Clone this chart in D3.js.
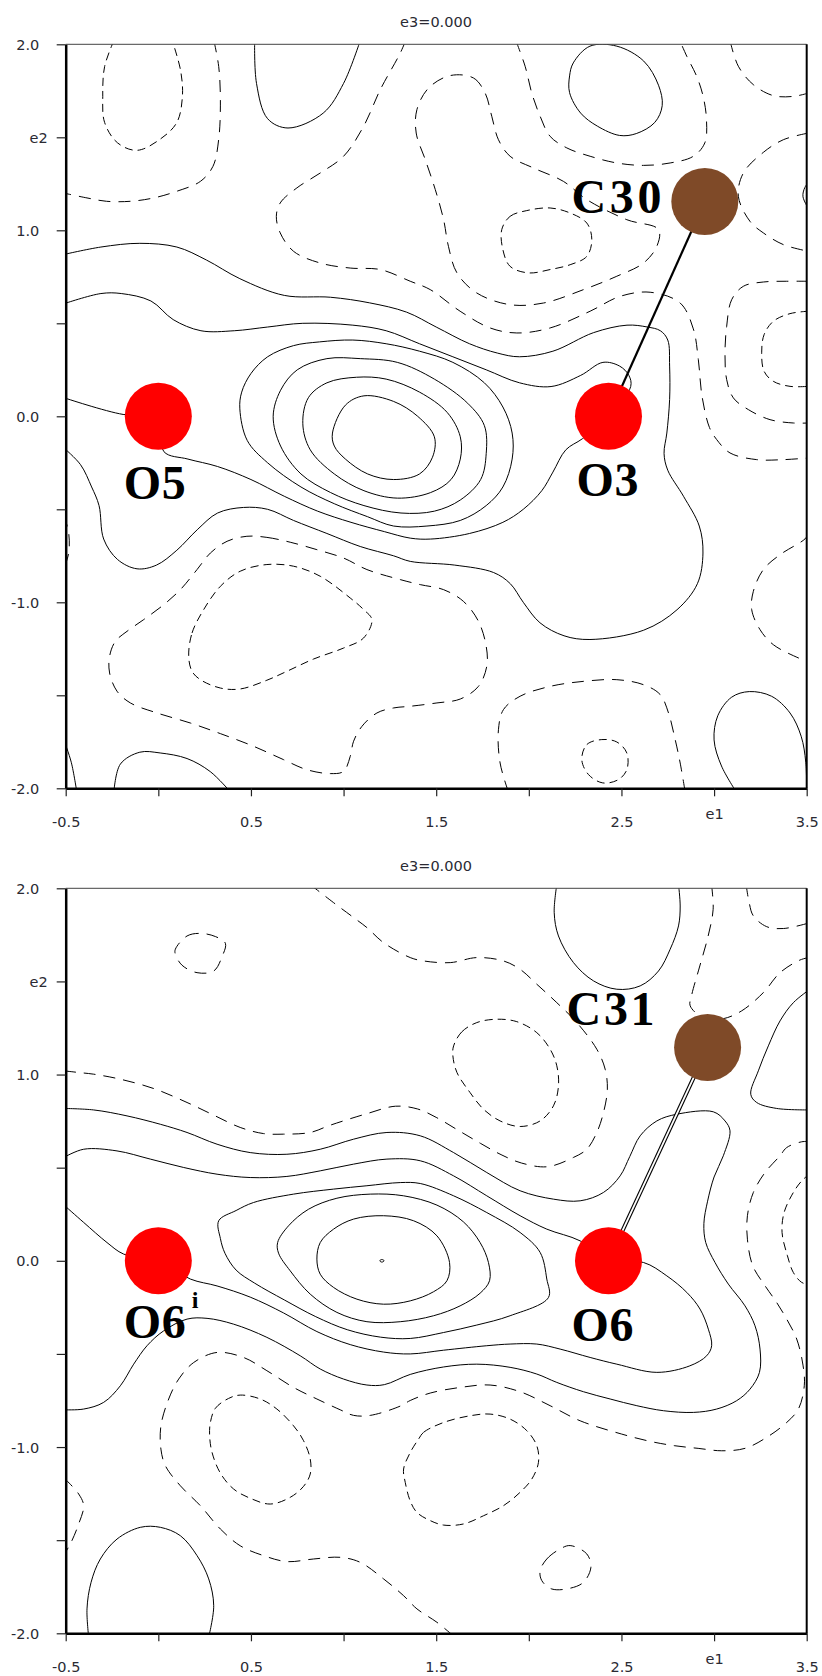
<!DOCTYPE html>
<html><head><meta charset="utf-8">
<script src="https://cdn.jsdelivr.net/npm/d3@7"></script>
<style>body{margin:0;background:#fff}svg{display:block}</style>
</head><body>
<script>
// ---------------- DATA ----------------
const xTickValues = [-0.5,0,0.5,1,1.5,2,2.5,3,3.5];
const xTickLabels = ["-0.5","","0.5","","1.5","","2.5","e1","3.5"];
const yTickValues = [2,1.5,1,0.5,0,-0.5,-1,-1.5,-2];
const yTickLabels = ["2.0","e2","1.0","","0.0","","-1.0","","-2.0"];
const titleText = "e3=0.000";

// atoms (e1, e2 in Å)
const atomsTop = [["O5",0,0,"O"],["O3",2.43,0,"O"],["C30",2.95,1.155,"C"]];
const atomsBot = [["O6i",0,0,"O"],["O6",2.43,0,"O"],["C31",2.965,1.145,"C"]];
const bondsTop = [["C30","O3","single"]];
const bondsBot = [["C31","O6","double"]];

// ---- top panel: positive (solid) contours ----
const t_s1 = [[0.94,-0.09],[1.01,0.06],[1.11,0.11],[1.27,0.08],[1.40,0.00],[1.49,-0.11],[1.48,-0.22],[1.41,-0.31],[1.27,-0.34],[1.13,-0.31],[1.01,-0.23],[0.95,-0.16]];
const t_s2 = [[0.78,-0.04],[0.81,0.10],[0.91,0.18],[1.07,0.21],[1.23,0.20],[1.41,0.13],[1.56,0.02],[1.63,-0.11],[1.63,-0.23],[1.58,-0.34],[1.47,-0.41],[1.29,-0.44],[1.11,-0.40],[0.95,-0.31],[0.82,-0.18]];
const t_s3 = [[0.62,0.00],[0.66,0.14],[0.75,0.25],[0.91,0.31],[1.09,0.31],[1.29,0.29],[1.49,0.20],[1.67,0.07],[1.76,-0.05],[1.77,-0.20],[1.74,-0.34],[1.63,-0.45],[1.49,-0.51],[1.31,-0.52],[1.11,-0.48],[0.93,-0.41],[0.77,-0.31],[0.66,-0.16]];
const t_s4 = [[0.44,0.04],[0.45,0.13],[0.50,0.23],[0.59,0.32],[0.73,0.38],[0.87,0.40],[1.05,0.41],[1.23,0.39],[1.41,0.35],[1.59,0.29],[1.76,0.18],[1.86,0.05],[1.91,-0.09],[1.91,-0.23],[1.86,-0.38],[1.77,-0.48],[1.63,-0.56],[1.45,-0.59],[1.27,-0.59],[1.13,-0.54],[0.95,-0.47],[0.77,-0.38],[0.59,-0.25],[0.48,-0.13]];
const t_c = [[-0.51,0.605],[-0.31,0.66],[-0.2,0.66],[-0.04,0.62],[0.08,0.52],[0.23,0.46],[0.41,0.46],[0.59,0.48],[0.78,0.50],[1.05,0.49],[1.23,0.46],[1.41,0.39],[1.59,0.32],[1.77,0.25],[1.95,0.18],[2.12,0.16],[2.28,0.22],[2.40,0.29],[2.49,0.27],[2.54,0.22],[2.55,0.16],[2.43,0.0],[2.29,-0.12],[2.20,-0.18],[2.13,-0.30],[2.07,-0.40],[1.97,-0.50],[1.86,-0.57],[1.68,-0.63],[1.47,-0.66],[1.36,-0.655],[1.22,-0.62],[1.04,-0.57],[0.86,-0.51],[0.68,-0.43],[0.50,-0.34],[0.32,-0.27],[0.16,-0.23],[0.03,-0.19],[0,0],[-0.19,0.01],[-0.51,0.10]];
const t_big = [[-0.51,0.87],[-0.31,0.91],[-0.10,0.93],[0.10,0.91],[0.26,0.84],[0.44,0.74],[0.68,0.65],[0.93,0.64],[1.14,0.61],[1.34,0.56],[1.50,0.48],[1.68,0.39],[1.83,0.34],[1.95,0.32],[2.13,0.35],[2.35,0.45],[2.53,0.49],[2.64,0.48],[2.71,0.46],[2.75,0.41],[2.76,0.27],[2.76,0.09],[2.745,-0.09],[2.73,-0.20],[2.75,-0.29],[2.835,-0.43],[2.92,-0.59],[2.94,-0.735],[2.91,-0.90],[2.80,-1.04],[2.62,-1.15],[2.33,-1.20],[2.19,-1.18],[2.06,-1.11],[1.97,-1.00],[1.90,-0.90],[1.81,-0.84],[1.60,-0.80],[1.36,-0.78],[1.27,-0.75],[1.09,-0.70],[0.91,-0.63],[0.73,-0.56],[0.59,-0.50],[0.46,-0.49],[0.32,-0.52],[0.21,-0.61],[0.10,-0.72],[-0.01,-0.80],[-0.115,-0.82],[-0.22,-0.77],[-0.295,-0.66],[-0.32,-0.48],[-0.36,-0.38],[-0.42,-0.26],[-0.51,-0.17]];
const t_topLobe = [[0.52,2.02],[0.53,1.79],[0.59,1.60],[0.70,1.55],[0.89,1.63],[1.00,1.79],[1.09,2.02]];
const t_trLoop = [[2.22,1.83],[2.24,1.90],[2.33,1.99],[2.475,1.99],[2.62,1.91],[2.70,1.78],[2.72,1.67],[2.68,1.58],[2.58,1.52],[2.49,1.51],[2.37,1.56],[2.28,1.63],[2.22,1.74]];
const t_edgeBump = [[3.52,1.27],[3.49,1.23],[3.48,1.18],[3.52,1.10]];
const t_brLobe = [[3.12,-2.02],[3.04,-1.88],[3.00,-1.74],[3.02,-1.61],[3.095,-1.51],[3.19,-1.48],[3.31,-1.505],[3.41,-1.595],[3.47,-1.72],[3.495,-1.86],[3.50,-2.02]];
const t_blLobe = [[-0.24,-2.02],[-0.205,-1.87],[-0.10,-1.806],[0.01,-1.81],[0.155,-1.84],[0.28,-1.91],[0.39,-2.02]];
const t_corner = [[-0.51,-1.74],[-0.47,-1.86],[-0.44,-2.02]];

// ---- top panel: zero (long dash) and negative (short dash) contours ----
const t_d1 = [[-0.24,2.02],[-0.29,1.88],[-0.30,1.72],[-0.29,1.58],[-0.22,1.47],[-0.115,1.43],[0.01,1.49],[0.10,1.58],[0.13,1.72],[0.12,1.86],[0.075,2.02]];
const t_d2 = [[0.30,2.02],[0.326,1.88],[0.335,1.70],[0.326,1.49],[0.295,1.344],[0.227,1.263],[0.10,1.21],[-0.025,1.174],[-0.15,1.156],[-0.28,1.156],[-0.385,1.174],[-0.51,1.20]];
const t_d3 = [[1.335,2.02],[1.306,1.953],[1.198,1.756],[1.108,1.559],[1.0,1.398],[0.874,1.308],[0.748,1.228],[0.658,1.147],[0.637,1.075],[0.658,0.986],[0.73,0.887],[0.874,0.824],[1.036,0.797],[1.198,0.789],[1.36,0.726],[1.468,0.681],[1.629,0.565],[1.791,0.475],[1.935,0.448],[2.115,0.475],[2.331,0.565],[2.493,0.645],[2.655,0.667],[2.817,0.609],[2.888,0.47],[2.915,0.305],[2.935,0.108],[2.975,-0.06],[3.014,-0.125],[3.086,-0.197],[3.23,-0.233],[3.374,-0.233],[3.51,-0.224]];
const t_d4 = [[1.576,1.832],[1.701,1.819],[1.764,1.738],[1.80,1.613],[1.836,1.487],[1.899,1.398],[2.025,1.335],[2.187,1.263],[2.313,1.165],[2.529,1.057],[2.70,1.004],[2.691,0.914],[2.619,0.824],[2.475,0.753],[2.295,0.681],[2.079,0.609],[1.899,0.60],[1.719,0.663],[1.612,0.771],[1.566,0.914],[1.54,1.057],[1.495,1.219],[1.441,1.38],[1.392,1.523],[1.396,1.649],[1.459,1.765]];
const t_d5 = [[1.854,1.004],[1.899,1.075],[1.989,1.106],[2.115,1.12],[2.223,1.093],[2.313,1.039],[2.34,0.95],[2.313,0.86],[2.223,0.815],[2.115,0.789],[1.998,0.771],[1.899,0.806],[1.86,0.896]];
const t_dU = [[1.93,2.02],[1.98,1.882],[2.016,1.738],[2.061,1.613],[2.115,1.505],[2.205,1.443],[2.331,1.398],[2.475,1.362],[2.619,1.349],[2.763,1.362],[2.888,1.398],[2.95,1.47],[2.959,1.595],[2.941,1.72],[2.906,1.828],[2.853,1.935],[2.815,2.02]];
const t_dTR = [[3.086,2.02],[3.131,1.882],[3.212,1.783],[3.32,1.724],[3.428,1.72],[3.51,1.738]];
const t_dC = [[3.51,1.523],[3.374,1.487],[3.266,1.419],[3.158,1.308],[3.131,1.183],[3.194,1.048],[3.266,0.986],[3.374,0.923],[3.51,0.887]];
const t_d6 = [[3.51,0.726],[3.392,0.726],[3.266,0.722],[3.158,0.699],[3.095,0.627],[3.068,0.484],[3.059,0.341],[3.068,0.197],[3.104,0.099],[3.185,0.036],[3.302,-0.018],[3.428,-0.036],[3.51,-0.036]];
const t_d7 = [[3.51,0.565],[3.41,0.552],[3.32,0.511],[3.27,0.439],[3.257,0.341],[3.27,0.242],[3.32,0.188],[3.41,0.161],[3.51,0.161]];
const t_d8 = [[3.51,-0.63],[3.491,-0.659],[3.356,-0.744],[3.266,-0.824],[3.212,-0.941],[3.203,-1.039],[3.248,-1.147],[3.32,-1.228],[3.455,-1.299],[3.51,-1.32]];
const t_d9 = [[1.89,-2.02],[1.845,-1.864],[1.836,-1.685],[1.863,-1.577],[1.953,-1.505],[2.115,-1.452],[2.295,-1.425],[2.475,-1.416],[2.619,-1.443],[2.709,-1.496],[2.754,-1.595],[2.79,-1.738],[2.817,-1.864],[2.844,-2.02]];
const t_d10 = [[2.286,-1.846],[2.313,-1.765],[2.394,-1.738],[2.475,-1.751],[2.529,-1.81],[2.529,-1.90],[2.484,-1.953],[2.399,-1.971],[2.322,-1.926]];
const t_d11 = [[0.478,-0.645],[0.586,-0.651],[0.712,-0.677],[0.856,-0.717],[1.0,-0.762],[1.126,-0.824],[1.306,-0.878],[1.414,-0.905],[1.54,-0.932],[1.647,-0.995],[1.728,-1.102],[1.77,-1.237],[1.773,-1.344],[1.728,-1.452],[1.63,-1.52],[1.504,-1.541],[1.36,-1.559],[1.27,-1.568],[1.18,-1.595],[1.099,-1.667],[1.054,-1.747],[1.036,-1.828],[1.0,-1.909],[0.928,-1.921],[0.802,-1.90],[0.676,-1.846],[0.514,-1.774],[0.335,-1.706],[0.173,-1.649],[-0.007,-1.595],[-0.151,-1.541],[-0.223,-1.478],[-0.263,-1.38],[-0.263,-1.29],[-0.232,-1.21],[-0.169,-1.156],[-0.079,-1.093],[0.029,-1.013],[0.119,-0.932],[0.209,-0.824],[0.281,-0.735],[0.371,-0.672]];
const t_d12 = [[0.164,-1.29],[0.182,-1.165],[0.245,-1.039],[0.335,-0.914],[0.442,-0.833],[0.586,-0.797],[0.73,-0.806],[0.874,-0.86],[1.036,-0.977],[1.108,-1.039],[1.153,-1.093],[1.108,-1.192],[1.0,-1.246],[0.838,-1.305],[0.694,-1.371],[0.586,-1.419],[0.442,-1.466],[0.335,-1.461],[0.227,-1.416],[0.182,-1.371]];
const t_dLE = [[-0.51,-0.53],[-0.484,-0.627],[-0.484,-0.735],[-0.51,-0.82]];

// ---- bottom panel: solid contours ----
const b_top = [[2.151,2.02],[2.137,1.869],[2.16,1.744],[2.241,1.601],[2.349,1.503],[2.475,1.458],[2.601,1.476],[2.70,1.556],[2.763,1.673],[2.808,1.798],[2.817,1.905],[2.808,2.02]];
const b_right = [[3.52,1.46],[3.428,1.386],[3.356,1.288],[3.293,1.154],[3.239,1.02],[3.198,0.894],[3.23,0.85],[3.338,0.818],[3.52,0.81]];
const b_i1 = [[0.856,0.009],[0.874,0.098],[0.946,0.17],[1.054,0.224],[1.216,0.242],[1.378,0.215],[1.504,0.134],[1.572,-0.009],[1.558,-0.107],[1.486,-0.166],[1.36,-0.215],[1.216,-0.233],[1.072,-0.206],[0.946,-0.143],[0.874,-0.072]];
const b_dot = [[1.195,0],[1.207,0.007],[1.219,0],[1.207,-0.007]];
const b_i2 = [[0.644,0.098],[0.703,0.188],[0.811,0.277],[0.964,0.336],[1.144,0.358],[1.324,0.349],[1.504,0.299],[1.647,0.209],[1.737,0.098],[1.782,-0.009],[1.788,-0.107],[1.737,-0.174],[1.629,-0.242],[1.486,-0.295],[1.306,-0.327],[1.126,-0.327],[0.964,-0.277],[0.82,-0.179],[0.712,-0.054],[0.649,0.041]];
const b_lens = [[0.326,0.215],[0.42,0.27],[0.514,0.313],[0.73,0.358],[0.946,0.385],[1.126,0.403],[1.306,0.42],[1.414,0.415],[1.594,0.349],[1.773,0.259],[1.953,0.152],[2.061,0.045],[2.097,-0.098],[2.106,-0.197],[1.899,-0.295],[1.719,-0.345],[1.54,-0.385],[1.36,-0.417],[1.20,-0.41],[1.02,-0.37],[0.85,-0.30],[0.68,-0.21],[0.52,-0.12],[0.42,-0.05],[0.36,0.04],[0.335,0.12]];
const b_s1 = [[-0.51,0.818],[-0.349,0.81],[-0.169,0.778],[0.011,0.733],[0.155,0.689],[0.317,0.626],[0.496,0.581],[0.694,0.572],[0.874,0.599],[1.054,0.653],[1.234,0.689],[1.414,0.671],[1.594,0.581],[1.773,0.474],[1.953,0.376],[2.133,0.331],[2.277,0.322],[2.403,0.367],[2.493,0.456],[2.545,0.56],[2.601,0.671],[2.691,0.751],[2.799,0.787],[2.996,0.80],[3.059,0.751],[3.086,0.698],[3.05,0.564],[3.00,0.45],[2.965,0.32],[2.945,0.20],[2.955,0.098],[3.005,-0.009],[3.077,-0.125],[3.167,-0.242],[3.221,-0.349],[3.248,-0.474],[3.245,-0.599],[3.194,-0.689],[3.122,-0.751],[3.014,-0.796],[2.888,-0.814],[2.727,-0.805],[2.583,-0.778],[2.439,-0.742],[2.295,-0.703],[2.151,-0.653],[2.043,-0.608],[1.899,-0.572],[1.719,-0.555],[1.54,-0.57],[1.36,-0.61],[1.22,-0.665],[1.126,-0.667],[1.0,-0.635],[0.874,-0.581],[0.766,-0.51],[0.586,-0.411],[0.406,-0.34],[0.263,-0.309],[0.155,-0.313],[0.029,-0.376],[-0.061,-0.456],[-0.133,-0.555],[-0.205,-0.671],[-0.295,-0.76],[-0.403,-0.796],[-0.51,-0.80]];
const b_s2 = [[-0.51,0.555],[-0.403,0.599],[-0.223,0.59],[-0.043,0.546],[0.137,0.501],[0.317,0.465],[0.496,0.447],[0.694,0.453],[0.874,0.483],[1.054,0.519],[1.234,0.546],[1.414,0.537],[1.594,0.456],[1.773,0.349],[1.953,0.242],[2.097,0.17],[2.277,0.107],[2.43,0],[2.619,-0.009],[2.745,-0.081],[2.853,-0.17],[2.924,-0.259],[2.969,-0.367],[2.987,-0.456],[2.96,-0.51],[2.869,-0.564],[2.691,-0.599],[2.475,-0.555],[2.331,-0.519],[2.169,-0.474],[2.043,-0.447],[1.899,-0.447],[1.773,-0.456],[1.54,-0.48],[1.36,-0.50],[1.216,-0.49],[1.036,-0.45],[0.856,-0.38],[0.676,-0.28],[0.496,-0.195],[0.317,-0.135],[0.173,-0.098],[0,0],[-0.187,0.036],[-0.277,0.098],[-0.403,0.206],[-0.51,0.30]];
const b_blLobe = [[-0.376,-2.02],[-0.385,-1.869],[-0.363,-1.726],[-0.313,-1.601],[-0.223,-1.494],[-0.097,-1.431],[0.011,-1.431],[0.119,-1.476],[0.209,-1.583],[0.272,-1.708],[0.299,-1.852],[0.272,-2.02]];

// ---- bottom panel: dashed contours ----
const b_d1 = [[0.092,1.673],[0.155,1.744],[0.227,1.758],[0.308,1.741],[0.362,1.705],[0.344,1.633],[0.299,1.556],[0.209,1.547],[0.128,1.587],[0.092,1.646]];
const b_d2 = [[-0.51,1.02],[-0.43,1.011],[-0.349,1.002],[-0.205,0.975],[-0.025,0.925],[0.155,0.85],[0.299,0.782],[0.442,0.716],[0.568,0.683],[0.676,0.68],[0.82,0.689],[0.928,0.728],[1.126,0.79],[1.28,0.83],[1.40,0.815],[1.50,0.77],[1.62,0.70],[1.74,0.63],[1.85,0.57],[1.96,0.525],[2.10,0.505],[2.241,0.555],[2.313,0.599],[2.367,0.689],[2.403,0.796],[2.424,0.921],[2.412,1.029],[2.367,1.136],[2.259,1.279],[2.151,1.386],[2.043,1.485],[1.953,1.565],[1.863,1.61],[1.719,1.628],[1.576,1.601],[1.432,1.61],[1.36,1.628],[1.216,1.708],[1.126,1.789],[1.054,1.843],[0.946,1.923],[0.82,2.02]];
const b_d3 = [[1.594,1.154],[1.638,1.229],[1.719,1.279],[1.827,1.297],[1.935,1.284],[2.043,1.225],[2.115,1.136],[2.151,1.047],[2.16,0.939],[2.133,0.832],[2.061,0.751],[1.953,0.721],[1.845,0.751],[1.755,0.814],[1.683,0.903],[1.612,1.011],[1.59,1.101]];
const b_dC = [[2.986,2.02],[2.995,1.887],[2.968,1.744],[2.923,1.583],[2.878,1.422],[2.871,1.369],[2.95,1.30],[3.05,1.30],[3.149,1.342],[3.266,1.44],[3.356,1.547],[3.464,1.615],[3.52,1.63]];
const b_dTR = [[3.173,2.02],[3.19,1.92],[3.212,1.852],[3.284,1.794],[3.374,1.784],[3.52,1.816]];
const b_dR1 = [[3.52,0.64],[3.473,0.639],[3.392,0.608],[3.356,0.564],[3.275,0.474],[3.212,0.367],[3.18,0.242],[3.18,0.116],[3.209,-0.027],[3.275,-0.134],[3.338,-0.224],[3.392,-0.313],[3.446,-0.42],[3.48,-0.56],[3.487,-0.671],[3.455,-0.796],[3.392,-0.868],[3.284,-0.948],[3.167,-1.007],[3.041,-1.02],[2.914,-1.007],[2.788,-0.993],[2.662,-0.971],[2.5,-0.93],[2.277,-0.859],[2.115,-0.778],[1.953,-0.703],[1.791,-0.667],[1.629,-0.68],[1.468,-0.71],[1.36,-0.75],[1.306,-0.78],[1.144,-0.83],[1.054,-0.83],[0.982,-0.80],[0.856,-0.742],[0.73,-0.68],[0.586,-0.59],[0.46,-0.519],[0.317,-0.492],[0.191,-0.546],[0.11,-0.635],[0.056,-0.742],[0.014,-0.886],[0.014,-1.011],[0.038,-1.10],[0.119,-1.208],[0.227,-1.315],[0.335,-1.44],[0.442,-1.53],[0.568,-1.583],[0.694,-1.615],[0.838,-1.601],[0.982,-1.592],[1.09,-1.619],[1.216,-1.708],[1.324,-1.798],[1.396,-1.869],[1.504,-1.941],[1.60,-2.02]];
const b_dR2 = [[3.52,0.47],[3.473,0.429],[3.428,0.367],[3.378,0.259],[3.367,0.152],[3.396,0.027],[3.428,-0.063],[3.473,-0.116],[3.52,-0.13]];
const b_d4 = [[0.281,-0.868],[0.308,-0.792],[0.379,-0.739],[0.442,-0.721],[0.55,-0.742],[0.64,-0.796],[0.73,-0.886],[0.784,-0.966],[0.82,-1.064],[0.82,-1.145],[0.784,-1.211],[0.712,-1.27],[0.604,-1.306],[0.496,-1.275],[0.406,-1.225],[0.335,-1.14],[0.29,-1.029],[0.277,-0.939]];
const b_d5 = [[1.405,-0.957],[1.432,-0.921],[1.54,-0.868],[1.683,-0.832],[1.791,-0.823],[1.899,-0.85],[1.989,-0.912],[2.043,-0.993],[2.052,-1.082],[2.016,-1.172],[1.953,-1.243],[1.863,-1.315],[1.755,-1.369],[1.647,-1.413],[1.54,-1.419],[1.468,-1.395],[1.396,-1.351],[1.36,-1.29],[1.333,-1.19],[1.324,-1.118],[1.36,-1.029]];
const b_d6 = [[2.061,-1.664],[2.097,-1.601],[2.169,-1.547],[2.223,-1.529],[2.313,-1.574],[2.335,-1.646],[2.295,-1.726],[2.223,-1.758],[2.124,-1.762],[2.07,-1.717]];
const b_dLE = [[-0.51,-1.165],[-0.43,-1.252],[-0.403,-1.315],[-0.43,-1.413],[-0.471,-1.512],[-0.51,-1.58]];

// contour groups: [points, closed?]
const topSolid = [[t_s1,1],[t_s2,1],[t_s3,1],[t_s4,1],[t_c,0],[t_big,0],[t_topLobe,0],[t_trLoop,1],[t_edgeBump,0],[t_brLobe,0],[t_blLobe,0],[t_corner,0]];
const topZero = [[t_d2,0],[t_d3,0],[t_d4,1],[t_dU,0],[t_dTR,0],[t_dC,0],[t_d6,0],[t_d8,0],[t_d9,0],[t_d11,1],[t_dLE,0]];
const topNeg = [[t_d1,0],[t_d5,1],[t_d7,0],[t_d10,1],[t_d12,1]];
const botSolid = [[b_top,0],[b_right,0],[b_i1,1],[b_dot,1],[b_i2,1],[b_lens,1],[b_s1,0],[b_s2,0],[b_blLobe,0]];
const botZero = [[b_d1,1],[b_d2,0],[b_dC,0],[b_dTR,0],[b_dR1,0],[b_d6,1],[b_dLE,0]];
const botNeg = [[b_d3,1],[b_dR2,0],[b_d4,1],[b_d5,1]];

// ---------------- LAYOUT ----------------
const W = 822, H = 1676;
const X0 = 65.7, X1 = 806.7;
const panels = [
  {top:44.3, bot:788.3, atoms:atomsTop, bonds:bondsTop, solid:topSolid, zero:topZero, neg:topNeg},
  {top:888.3, bot:1633.3, atoms:atomsBot, bonds:bondsBot, solid:botSolid, zero:botZero, neg:botNeg}
];
const labelLayout = {
  O5:{dx:-34.6, dy:82.6, len:62}, O3:{dx:-32, dy:79.3, len:62}, C30:{dx:-133.3, dy:11.3, len:90},
  O6i:{dx:-34.6, dy:77.6, len:62}, O6:{dx:-37, dy:80, len:62}, C31:{dx:-141, dy:-22.3, len:88}
};
const atomColor = {O:"#ff0000", C:"#7f4a28"};
const atomR = 33.5;
const tickFont = "'DejaVu Sans', Verdana, sans-serif";
const lineColor = "#000";

const svg = d3.select("body").append("svg").attr("width", W).attr("height", H);

panels.forEach((p, pi) => {
  const x = d3.scaleLinear().domain([-0.5, 3.5]).range([X0, X1]);
  const y = d3.scaleLinear().domain([-2, 2]).range([p.bot, p.top]);
  const g = svg.append("g");

  const clipId = "clip" + pi;
  g.append("clipPath").attr("id", clipId).append("rect")
    .attr("x", X0).attr("y", p.top).attr("width", X1 - X0).attr("height", p.bot - p.top);

  const cg = g.append("g").attr("clip-path", `url(#${clipId})`);
  const lineOpen = d3.line().x(d => x(d[0])).y(d => y(d[1])).curve(d3.curveCatmullRom.alpha(0.5));
  const lineClosed = d3.line().x(d => x(d[0])).y(d => y(d[1])).curve(d3.curveCatmullRomClosed.alpha(0.5));
  const pathD = d => (d[1] ? lineClosed : lineOpen)(d[0]);

  cg.selectAll("path.solid").data(p.solid).join("path")
    .attr("class", "solid").attr("d", pathD)
    .attr("fill", "none").attr("stroke", lineColor).attr("stroke-width", 1);
  cg.selectAll("path.zero").data(p.zero).join("path")
    .attr("class", "zero").attr("d", pathD)
    .attr("fill", "none").attr("stroke", lineColor).attr("stroke-width", 1)
    .attr("stroke-dasharray", "12,8");
  cg.selectAll("path.neg").data(p.neg).join("path")
    .attr("class", "neg").attr("d", pathD)
    .attr("fill", "none").attr("stroke", lineColor).attr("stroke-width", 1)
    .attr("stroke-dasharray", "8,5");

  // bonds
  const atomByName = {};
  p.atoms.forEach(a => atomByName[a[0]] = a);
  p.bonds.forEach(b => {
    const a1 = atomByName[b[0]], a2 = atomByName[b[1]];
    const seg = cg.append("line")
      .attr("x1", x(a1[1])).attr("y1", y(a1[2])).attr("x2", x(a2[1])).attr("y2", y(a2[2]));
    if (b[2] === "single") {
      seg.attr("stroke", "#000").attr("stroke-width", 2.2);
    } else {
      seg.attr("stroke", "#000").attr("stroke-width", 4);
      cg.append("line")
        .attr("x1", x(a1[1])).attr("y1", y(a1[2])).attr("x2", x(a2[1])).attr("y2", y(a2[2]))
        .attr("stroke", "#fff").attr("stroke-width", 1.8);
    }
  });

  // atoms
  cg.selectAll("circle.atom").data(p.atoms).join("circle")
    .attr("class", "atom")
    .attr("cx", d => x(d[1])).attr("cy", d => y(d[2])).attr("r", atomR)
    .attr("fill", d => atomColor[d[3]]);

  // atom labels
  p.atoms.forEach(a => {
    const L = labelLayout[a[0]];
    const t = g.append("text")
      .attr("x", x(a[1]) + L.dx).attr("y", y(a[2]) + L.dy)
      .attr("font-family", "'Liberation Serif', 'Times New Roman', serif")
      .attr("font-weight", "bold").attr("font-size", 48)
      .attr("fill", "#000")
      .attr("textLength", L.len).attr("lengthAdjust", "spacing");
    if (a[0] === "O6i") {
      t.text("O6");
      g.append("text")
        .attr("x", x(a[1]) + L.dx + 68).attr("y", y(a[2]) + L.dy - 30)
        .attr("font-family", "'Liberation Serif', 'Times New Roman', serif")
        .attr("font-weight", "bold").attr("font-size", 24).text("i");
    } else {
      t.text(a[0]);
    }
  });

  // frame
  g.append("line").attr("x1", X0).attr("x2", X1).attr("y1", p.top).attr("y2", p.top)
    .attr("stroke", "#444").attr("stroke-width", 1);
  g.append("line").attr("x1", X1).attr("x2", X1).attr("y1", p.top).attr("y2", p.bot)
    .attr("stroke", "#000").attr("stroke-width", 2);

  // axes
  const ax = g.append("g").attr("transform", `translate(0,${p.bot})`)
    .call(d3.axisBottom(x).tickValues(xTickValues).tickFormat((d, i) => xTickLabels[i]).tickSize(8).tickSizeOuter(0));
  ax.select(".domain").attr("stroke", "#000").attr("stroke-width", 2.5);
  ax.selectAll(".tick line").attr("stroke", "#222").attr("stroke-width", 1.2);
  ax.selectAll(".tick text")
    .attr("font-family", tickFont).attr("font-size", 14.5).attr("fill", "#2a2a33")
    .attr("y", (d, i) => xTickLabels[i] === "e1" ? 26 : 33.4).attr("dy", "0.35em");

  const ay = g.append("g").attr("transform", `translate(${X0},0)`)
    .call(d3.axisLeft(y).tickValues(yTickValues).tickFormat((d, i) => yTickLabels[i]).tickSize(9).tickSizeOuter(0));
  ay.select(".domain").attr("stroke", "#000").attr("stroke-width", 2.5);
  ay.selectAll(".tick line").attr("stroke", "#222").attr("stroke-width", 1.2);
  ay.selectAll(".tick text")
    .attr("font-family", tickFont).attr("font-size", 14.5).attr("fill", "#2a2a33")
    .attr("x", (d, i) => yTickLabels[i] === "e2" ? -18 : -26.4).attr("dy", "0.35em");

  // title
  g.append("text").attr("x", 436).attr("y", p.top - 22.6).attr("dy", "0.35em")
    .attr("text-anchor", "middle").attr("font-family", tickFont).attr("font-size", 14.5)
    .attr("fill", "#2a2a33").text(titleText);
});
</script>
</body></html>
